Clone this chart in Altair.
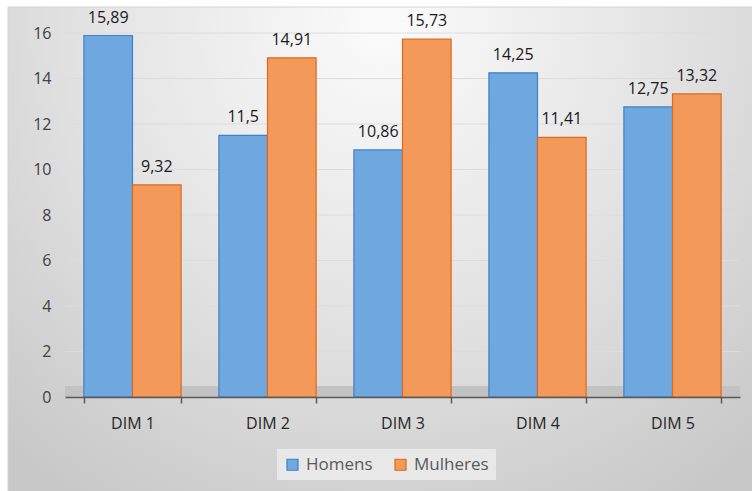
import altair as alt
import pandas as pd

# Scores per dimension, by sex
categories = ["DIM 1", "DIM 2", "DIM 3", "DIM 4", "DIM 5"]
homens = [15.89, 11.5, 10.86, 14.25, 12.75]
mulheres = [9.32, 14.91, 15.73, 11.41, 13.32]
series = ["Homens", "Mulheres"]
y_ticks = [0, 2, 4, 6, 8, 10, 12, 14, 16]

rows = []
for cat, h, m in zip(categories, homens, mulheres):
    for s, v in zip(series, (h, m)):
        rows.append({"dim": cat, "sexo": s, "valor": v,
                     "rotulo": f"{v:g}".replace(".", ",")})
df = pd.DataFrame(rows)
grid_df = pd.DataFrame({"tick": y_ticks[1:]})

W, H = 675, 364
PAD = {"left": 65, "top": 33, "right": 12, "bottom": 94}
FONT = "Open Sans"

fills = ["#6fa8de", "#f3995a"]
strokes = ["#3f80c8", "#dc6a1c"]

y_scale = alt.Scale(domain=[0, 16], nice=False)
x_scale = alt.Scale(paddingInner=0.28, paddingOuter=0.14)
y_axis = alt.Axis(values=y_ticks, grid=False, domain=False, ticks=False,
                  labelFontSize=16, labelFont=FONT, labelColor="#404040",
                  labelPadding=14, zindex=1)

# Soft grey radial backdrop behind the whole chart
backdrop = alt.RadialGradient(
    gradient="radial",
    x1=0.5, y1=0.2, r1=0.0,
    x2=0.5, y2=0.2, r2=0.75,
    stops=[
        alt.GradientStop(color="#fbfbfb", offset=0.0),
        alt.GradientStop(color="#e4e4e4", offset=0.5),
        alt.GradientStop(color="#c8c8c8", offset=1.0),
    ],
)
bg = alt.Chart(pd.DataFrame({"a": [0]})).mark_rect(
    fill=backdrop, stroke="#d4d4d4", strokeWidth=1
).encode(
    x=alt.value(-PAD["left"] + 8),
    x2=alt.value(W + PAD["right"] + 2),
    y=alt.value(-PAD["top"] + 7),
    y2=alt.value(H + PAD["bottom"] + 2),
)

grid = alt.Chart(grid_df).mark_rule(color="#dcdcdc", strokeWidth=1).encode(
    y=alt.Y("tick:Q", scale=y_scale, axis=y_axis, title=None)
)

floor = alt.Chart(pd.DataFrame({"a": [0]})).mark_rect(color="#c2c2c2").encode(
    x=alt.value(0), x2=alt.value(W), y=alt.value(H - 11), y2=alt.value(H)
)

base = alt.Chart(df).encode(
    x=alt.X("dim:N", sort=categories, scale=x_scale, title=None,
            axis=alt.Axis(labelAngle=0, labelFontSize=16, labelFont=FONT,
                          labelColor="#262626", labelPadding=12,
                          domainColor="#595959", domainWidth=1.5,
                          tickColor="#595959", tickWidth=1.5, tickSize=6,
                          tickBand="extent", zindex=1)),
    xOffset=alt.XOffset("sexo:N", sort=series),
)

legend_kw = dict(title=None, orient="none", direction="horizontal",
                 legendX=212, legendY=416, fillColor="#e8e8e8", padding=7,
                 symbolType="square", symbolSize=121, symbolStrokeWidth=1.2,
                 labelFontSize=17, labelFont=FONT, labelColor="#595959",
                 columnPadding=19, labelOffset=5)

bars = base.mark_bar(strokeWidth=1.2).encode(
    y=alt.Y("valor:Q", scale=y_scale, title=None, axis=y_axis),
    fill=alt.Fill("sexo:N", sort=series,
                  scale=alt.Scale(domain=series, range=fills),
                  legend=alt.Legend(**legend_kw)),
    stroke=alt.Stroke("sexo:N", sort=series,
                      scale=alt.Scale(domain=series, range=strokes),
                      legend=alt.Legend(**legend_kw)),
)

labels = base.mark_text(baseline="bottom", dy=-10, fontSize=16, font=FONT,
                        color="#1a1a1a").encode(
    y=alt.Y("valor:Q", scale=y_scale, axis=y_axis, title=None),
    text="rotulo:N",
)

chart = alt.layer(bg, grid, floor, bars, labels).properties(
    width=W, height=H,
    autosize=alt.AutoSizeParams(type="none"),
    padding=PAD,
    background="white",
).configure_view(stroke=None)

chart.save("out.html", embed_options={"renderer": "svg", "actions": False})
